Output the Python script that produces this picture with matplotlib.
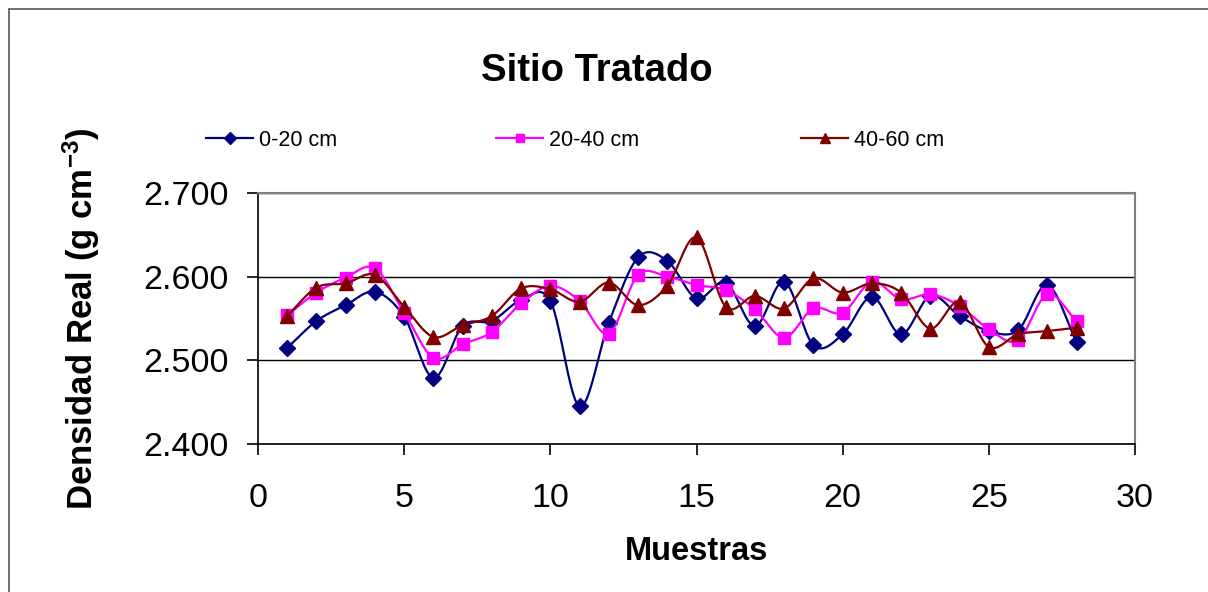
import numpy as np
import matplotlib.pyplot as plt
from matplotlib.patches import Rectangle

plt.rcParams['font.family'] = ['Liberation Sans', 'DejaVu Sans']
plt.rcParams['mathtext.fontset'] = 'custom'
plt.rcParams['mathtext.bf'] = 'Liberation Sans:bold'
plt.rcParams['mathtext.rm'] = 'Liberation Sans:bold'
plt.rcParams['mathtext.default'] = 'bf'

muestras = list(range(1, 29))
prof_0_20 = [2.515, 2.547, 2.566, 2.582, 2.552, 2.479, 2.541, 2.547, 2.572, 2.571,
             2.445, 2.545, 2.623, 2.619, 2.574, 2.593, 2.541, 2.594, 2.518, 2.531,
             2.576, 2.531, 2.577, 2.553, 2.535, 2.536, 2.590, 2.522]
prof_20_40 = [2.554, 2.581, 2.599, 2.610, 2.557, 2.503, 2.519, 2.534, 2.568, 2.589,
              2.571, 2.532, 2.602, 2.600, 2.590, 2.584, 2.561, 2.527, 2.562, 2.557,
              2.594, 2.573, 2.579, 2.565, 2.537, 2.524, 2.579, 2.547]
prof_40_60 = [2.553, 2.587, 2.592, 2.602, 2.564, 2.528, 2.542, 2.553, 2.586, 2.585,
              2.570, 2.593, 2.566, 2.589, 2.647, 2.564, 2.577, 2.562, 2.598, 2.581,
              2.592, 2.581, 2.538, 2.570, 2.516, 2.531, 2.535, 2.539]
series_labels = ['0-20 cm', '20-40 cm', '40-60 cm']


def smooth(x, y, n=20):
    # Catmull-Rom curve through the points, like spreadsheet "smoothed lines"
    x = np.asarray(x, float)
    y = np.asarray(y, float)
    px = np.concatenate([[2 * x[0] - x[1]], x, [2 * x[-1] - x[-2]]])
    py = np.concatenate([[2 * y[0] - y[1]], y, [2 * y[-1] - y[-2]]])
    xs, ys = [], []
    t = np.linspace(0, 1, n, endpoint=False)
    for i in range(1, len(px) - 2):
        for p, out in ((px, xs), (py, ys)):
            p0, p1, p2, p3 = p[i - 1], p[i], p[i + 1], p[i + 2]
            out.extend(0.5 * (2 * p1 + (-p0 + p2) * t
                              + (2 * p0 - 5 * p1 + 4 * p2 - p3) * t ** 2
                              + (-p0 + 3 * p1 - 3 * p2 + p3) * t ** 3))
    xs.append(x[-1])
    ys.append(y[-1])
    return xs, ys


fig = plt.figure(figsize=(12.08, 5.92), dpi=100)
fig.patches.append(Rectangle((9 / 1208, -0.1), 1.2, 1.1 - 9 / 592,
                             transform=fig.transFigure, fill=False,
                             edgecolor='#555555', linewidth=1.2))
ax = fig.add_axes([258 / 1208, 1 - 444 / 592, 877 / 1208, 251 / 592])

styles = [('#000080', 'D', 8.5), ('#FF00FF', 's', 8), ('#800000', '^', 9.5)]
handles = []
for vals, lab, (col, mk, ms) in zip([prof_0_20, prof_20_40, prof_40_60], series_labels, styles):
    sx, sy = smooth(muestras, vals)
    ax.plot(sx, sy, color=col, lw=1.6)
    ax.plot(muestras, vals, ls='none', marker=mk, ms=ms, color=col)
    h, = ax.plot([], [], color=col, lw=1.6, marker=mk, ms=ms - 2, label=lab)
    handles.append(h)

ax.set_xlim(0, 30)
ax.set_ylim(2.4, 2.7)
ax.set_xticks(range(0, 31, 5))
ax.set_yticks([2.4, 2.5, 2.6, 2.7])
ax.set_yticklabels(['2.400', '2.500', '2.600', '2.700'])
ax.tick_params(labelsize=24.5, length=8, width=1.2, direction='out')
ax.tick_params(axis='y', pad=13)
ax.tick_params(axis='x', pad=20)
ax.grid(axis='y', color='black', lw=1)
for s in ['top', 'right']:
    ax.spines[s].set_color('#808080')
    ax.spines[s].set_linewidth(1.5)
for s in ['left', 'bottom']:
    ax.spines[s].set_linewidth(1.2)

ax.set_xlabel('Muestras', fontsize=23.5, fontweight='bold', labelpad=16)
ax.set_ylabel('Densidad Real (g cm$^{-3}$)', fontsize=25, fontweight='bold', labelpad=30)
fig.text(597 / 1208, 1 - 71 / 592, 'Sitio Tratado', fontsize=27.5, fontweight='bold',
         ha='center', va='center')

# one legend per series so each entry sits at its own spot
for h, x0 in zip(handles, [206, 496, 801]):
    fig.legend(handles=[h], loc='center left', bbox_to_anchor=(x0 / 1208, 1 - 140 / 592),
               frameon=False, fontsize=15.5, handlelength=2.2, handletextpad=0.25,
               borderpad=0, borderaxespad=0)

fig.savefig('out.png', dpi=100)
